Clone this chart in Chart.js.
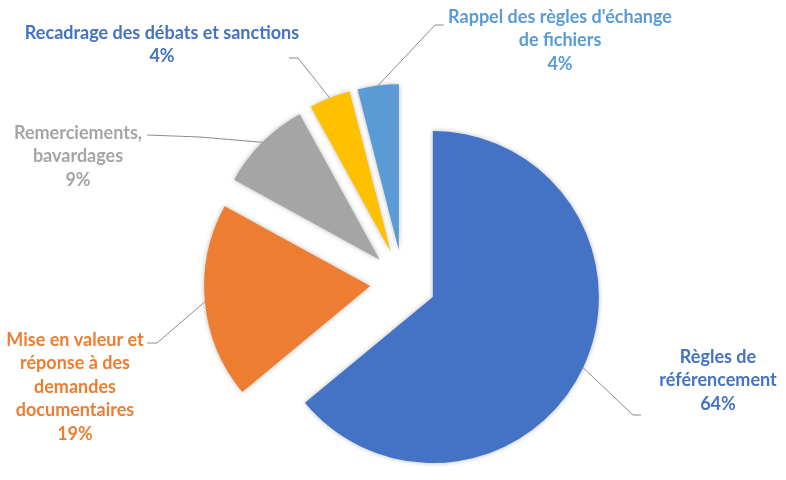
<!DOCTYPE html>
<html>
<head>
<meta charset="utf-8">
<script src="https://cdn.jsdelivr.net/npm/chart.js@4/dist/chart.umd.min.js"></script>
<style>
  html, body { margin: 0; padding: 0; background: #fff; }
  #wrap { width: 786px; height: 480px; }
</style>
</head>
<body>
<div id="wrap"><canvas id="chart" width="786" height="480"></canvas></div>
<script>
const categories = [
  ['Règles de', 'référencement'],
  ['Mise en valeur et', 'réponse à des', 'demandes', 'documentaires'],
  ['Remerciements,', 'bavardages'],
  ['Recadrage des débats et sanctions'],
  ["Rappel des règles d'échange", 'de fichiers'],
];
const shares = [64, 19, 9, 4, 4];
const sliceColors = ['#4472C4', '#ED7D31', '#A5A5A5', '#FFC000', '#5B9BD5'];
const labelColors = ['#4472C4', '#ED7D31', '#A5A5A5', '#4472C4', '#5B9BD5'];

// where each label sits: text centre x, first line y, leader elbow, leader end near text
const labelPlaces = [
  { x: 718, y: 357, elbow: [633, 415], end: [641, 415] },
  { x: 75, y: 340, elbow: [157, 343], end: [147, 343] },
  { x: 78, y: 133, elbow: [200, 137], end: [147, 135] },
  { x: 162, y: 33, elbow: [298, 58], end: [289, 58] },
  { x: 560, y: 17, elbow: [435, 25], end: [444, 25] },
];

const FONT = 'bold 18px Lato, "Open Sans", sans-serif';
const LINE_H = 23.5;
const EXPLODE = 33; // every slice pulled out this far from the centre, px

const midAngle = (arc) => {
  const { startAngle, endAngle } = arc.getProps(['startAngle', 'endAngle'], true);
  return (startAngle + endAngle) / 2;
};

// chart.js' own offset also grows the radius, so pull slices out by hand
const explodedSlices = {
  id: 'explodedSlices',
  beforeDatasetDraw(chart, args) {
    const ctx = chart.ctx;
    ctx.save();
    ctx.shadowColor = 'rgba(0,0,0,0.28)';
    ctx.shadowBlur = 5;
    args.meta.data.forEach((arc) => {
      const mid = midAngle(arc);
      ctx.save();
      ctx.translate(Math.cos(mid) * EXPLODE, Math.sin(mid) * EXPLODE);
      arc.draw(ctx);
      ctx.restore();
    });
    ctx.restore();
    return false;
  },
};

const sliceLabels = {
  id: 'sliceLabels',
  afterDraw(chart) {
    const ctx = chart.ctx;
    const meta = chart.getDatasetMeta(0);
    const total = shares.reduce((a, b) => a + b, 0);
    meta.data.forEach((arc, i) => {
      const { x, y, outerRadius } = arc.getProps(['x', 'y', 'outerRadius'], true);
      const mid = midAngle(arc);
      const ax = x + Math.cos(mid) * (EXPLODE + outerRadius);
      const ay = y + Math.sin(mid) * (EXPLODE + outerRadius);
      const place = labelPlaces[i];

      ctx.save();
      ctx.strokeStyle = '#8c8c8c';
      ctx.lineWidth = 1;
      ctx.beginPath();
      ctx.moveTo(ax, ay);
      ctx.lineTo(place.elbow[0], place.elbow[1]);
      ctx.lineTo(place.end[0], place.end[1]);
      ctx.stroke();

      const lines = categories[i].concat([Math.round(shares[i] / total * 100) + '%']);
      ctx.font = FONT;
      ctx.fillStyle = labelColors[i];
      ctx.textAlign = 'center';
      ctx.textBaseline = 'middle';
      lines.forEach((t, k) => ctx.fillText(t, place.x, place.y + k * LINE_H));
      ctx.restore();
    });
  },
};

new Chart(document.getElementById('chart'), {
  type: 'pie',
  data: {
    labels: categories,
    datasets: [{
      data: shares,
      backgroundColor: sliceColors,
      borderWidth: 0,
      radius: 166,
    }],
  },
  options: {
    responsive: false,
    animation: false,
    events: [],
    layout: { padding: { left: 20, right: 0, top: 86, bottom: 0 } },
    plugins: {
      legend: { display: false },
      tooltip: { enabled: false },
    },
  },
  plugins: [explodedSlices, sliceLabels],
});
</script>
</body>
</html>
